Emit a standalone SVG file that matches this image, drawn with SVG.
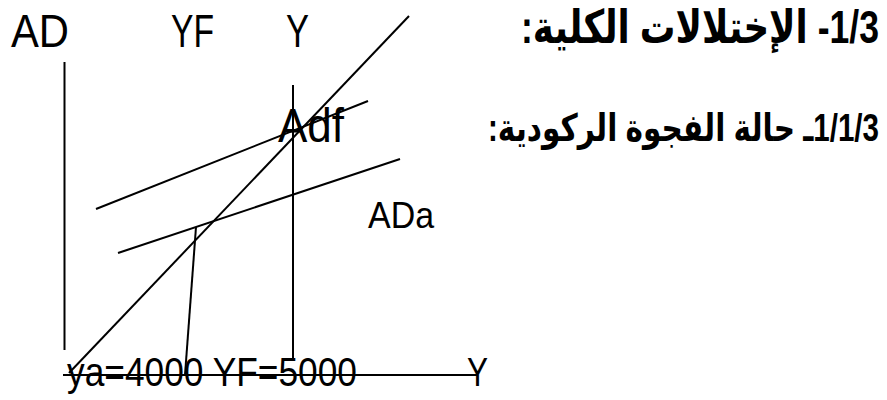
<svg xmlns="http://www.w3.org/2000/svg" width="887" height="400" viewBox="0 0 887 400">
<style>
.l{stroke:#000;stroke-width:2;fill:none}
.t{font-family:"Liberation Sans Narrow","Arial Narrow","Liberation Sans",sans-serif;fill:#000}
.ar{font-family:"Liberation Sans","DejaVu Sans",sans-serif;font-weight:bold;fill:#000}
</style>
<rect width="887" height="400" fill="#fff"/>
<g id="connectors">
<line class="l" x1="64.5" y1="62" x2="64.5" y2="350"/>
<line class="l" x1="63" y1="375" x2="477" y2="375"/>
<line class="l" x1="293" y1="85" x2="293" y2="361"/>
<line class="l" x1="409" y1="16" x2="69" y2="373"/>
<line class="l" x1="96" y1="209" x2="368" y2="101"/>
<line class="l" x1="118" y1="253" x2="400" y2="159"/>
<line class="l" x1="196" y1="227" x2="185" y2="375"/>
</g>
<g id="axis-labels">
<text class="t" x="11" y="47" font-size="47" textLength="58" lengthAdjust="spacingAndGlyphs">AD</text>
<text class="t" x="171" y="47" font-size="47" textLength="43" lengthAdjust="spacingAndGlyphs">YF</text>
<text class="t" x="286" y="47" font-size="47" textLength="23" lengthAdjust="spacingAndGlyphs">Y</text>
<text class="t" x="278" y="142" font-size="49" textLength="66" lengthAdjust="spacingAndGlyphs">Adf</text>
<text class="t" x="368" y="228" font-size="37" textLength="66" lengthAdjust="spacingAndGlyphs">ADa</text>
<text class="t" x="67" y="386" font-size="40" textLength="290" lengthAdjust="spacingAndGlyphs">ya=4000 YF=5000</text>
<text class="t" x="467" y="386" font-size="40" textLength="21" lengthAdjust="spacingAndGlyphs">Y</text>
</g>
<g id="titles">
<text class="ar" x="879" y="43" font-size="46" direction="rtl" text-anchor="start" textLength="358" lengthAdjust="spacingAndGlyphs">1/3- الإختلالات الكلية:</text>
<text class="ar" x="879" y="141" font-size="38" direction="rtl" text-anchor="start" textLength="391" lengthAdjust="spacingAndGlyphs">1/1/3ـ حالة الفجوة الركودية:</text>
</g>
</svg>
